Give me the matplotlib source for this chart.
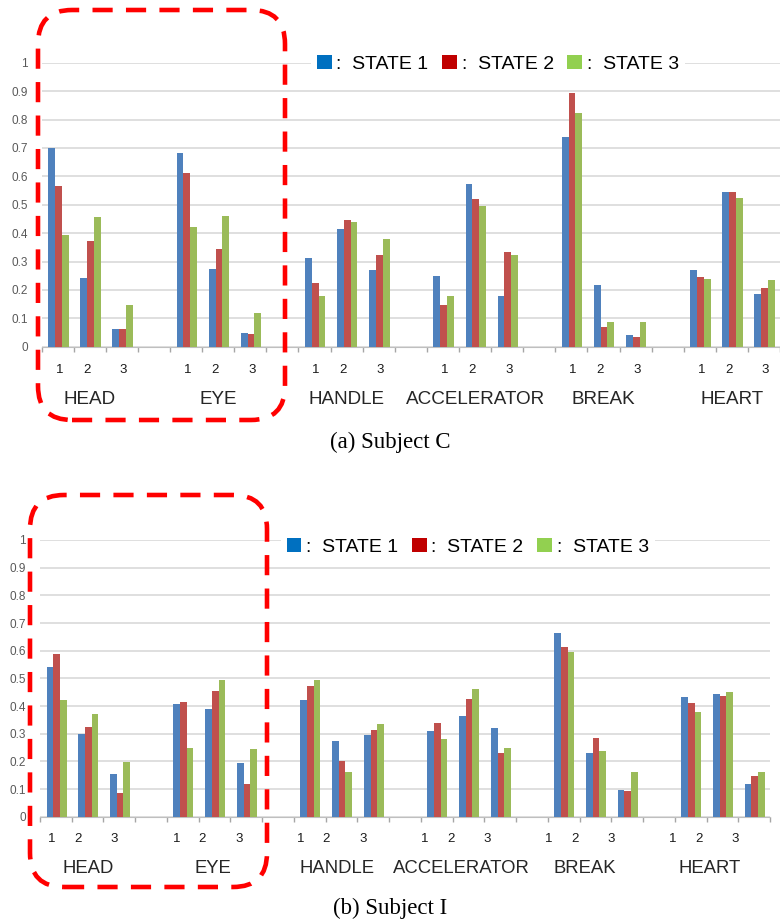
import matplotlib.pyplot as plt
from matplotlib.patches import FancyBboxPatch, Patch

plt.rcParams['font.family'] = ['Liberation Sans', 'DejaVu Sans']

parts = ['HEAD', 'EYE', 'HANDLE', 'ACCELERATOR', 'BREAK', 'HEART']
levels = ['1', '2', '3']
states = ['STATE 1', 'STATE 2', 'STATE 3']
yticks = [0, 0.1, 0.2, 0.3, 0.4, 0.5, 0.6, 0.7, 0.8, 0.9, 1]
ytick_labels = ['0', '0.1', '0.2', '0.3', '0.4', '0.5', '0.6', '0.7', '0.8', '0.9', '1']

# (a) Subject C, values ordered HEAD 1..3, EYE 1..3, ... HEART 1..3
subject_c_state1 = [0.698, 0.241, 0.062, 0.681, 0.272, 0.047, 0.312, 0.414, 0.271,
                    0.250, 0.573, 0.178, 0.739, 0.218, 0.040, 0.270, 0.545, 0.184]
subject_c_state2 = [0.566, 0.371, 0.062, 0.610, 0.345, 0.045, 0.225, 0.447, 0.324,
                    0.146, 0.519, 0.335, 0.894, 0.070, 0.035, 0.244, 0.545, 0.208]
subject_c_state3 = [0.393, 0.455, 0.147, 0.423, 0.462, 0.117, 0.178, 0.438, 0.380,
                    0.177, 0.496, 0.323, 0.823, 0.086, 0.086, 0.239, 0.522, 0.234]

# (b) Subject I
subject_i_state1 = [0.540, 0.300, 0.154, 0.408, 0.390, 0.193, 0.423, 0.275, 0.295,
                    0.310, 0.365, 0.320, 0.665, 0.229, 0.098, 0.433, 0.442, 0.117]
subject_i_state2 = [0.587, 0.323, 0.084, 0.416, 0.453, 0.120, 0.473, 0.202, 0.313,
                    0.337, 0.425, 0.229, 0.613, 0.286, 0.094, 0.411, 0.435, 0.148]
subject_i_state3 = [0.423, 0.370, 0.196, 0.249, 0.495, 0.246, 0.493, 0.163, 0.335,
                    0.282, 0.460, 0.249, 0.595, 0.237, 0.163, 0.380, 0.451, 0.163]

bar_colors = ['#4F81BD', '#C0504D', '#9BBB59']
key_colors = ['#0070C0', '#C00000', '#92D050']
bar_w = 0.21


def draw_panel(ax, series, xmax, label_scale, num_offsets, name_offset,
               name_size, legend_at):
    # every part takes 4 slots: three levels and an empty gap
    for i, values in enumerate(series):
        xs = []
        for n in range(len(values)):
            g, k = divmod(n, 3)
            xs.append(4 * g + k + 0.52 + (i - 1) * bar_w)
        ax.bar(xs, values, width=bar_w, color=bar_colors[i], zorder=3)

    ax.set_xlim(0, xmax)
    ax.set_ylim(0, 1)
    ax.set_yticks(yticks)
    ax.set_yticklabels(ytick_labels, fontsize=8.5, color='#595959')
    ax.tick_params(axis='y', length=0, pad=10)
    ax.set_xticks(range(0, 24))
    ax.set_xticklabels([])
    ax.tick_params(axis='x', length=3.5, color='#A6A6A6', width=1)
    ax.grid(axis='y', color='#D9D9D9', linewidth=1.2, zorder=0)
    ax.set_axisbelow(True)
    for side in ['top', 'right', 'left']:
        ax.spines[side].set_visible(False)
    ax.spines['bottom'].set_color('#BFBFBF')

    tr = ax.get_xaxis_transform()
    for g, name in enumerate(parts):
        start = 4 * g * label_scale
        for k, lv in enumerate(levels):
            ax.text(start + num_offsets[k], -0.082, lv, transform=tr,
                    ha='center', va='center', fontsize=9.5, color='#1A1A1A')
        ax.text(start + name_offset, -0.187, name, transform=tr,
                ha='center', va='center', fontsize=name_size, color='#262626')

    handles = [Patch(facecolor=c, edgecolor='none') for c in key_colors]
    leg = ax.legend(handles, [':  ' + s for s in states], ncol=3, loc='center',
                    bbox_to_anchor=legend_at, fontsize=14, frameon=True,
                    handlelength=0.75, handleheight=0.75, handletextpad=0.25,
                    columnspacing=0.7, borderpad=0.3, fancybox=False)
    leg.get_frame().set_facecolor('white')
    leg.get_frame().set_edgecolor('none')
    leg.get_frame().set_alpha(1)


fig = plt.figure(figsize=(7.8, 9.24), dpi=100)

ax1 = fig.add_axes([41.7 / 780, 0.6248, 1 - 41.7 / 780, 0.3073])
draw_panel(ax1, [subject_c_state1, subject_c_state2, subject_c_state3],
           xmax=(780 - 41.7) / 32.5, label_scale=1.0,
           num_offsets=[0.55, 1.4, 2.55], name_offset=1.5, name_size=13.6,
           legend_at=(0.618, 0.995))

ax2 = fig.add_axes([40 / 780, 0.1161, 730 / 780, 0.2995])
draw_panel(ax2, [subject_i_state1, subject_i_state2, subject_i_state3],
           xmax=23, label_scale=0.978,
           num_offsets=[0.38, 1.2, 2.35], name_offset=1.53, name_size=13.3,
           legend_at=(0.586, 0.975))

fig.text(0.5, 1 - 442 / 924, '(a) Subject C', ha='center', va='center',
         fontsize=16.5, family='Liberation Serif')
fig.text(0.5, 1 - 908 / 924, '(b) Subject I', ha='center', va='center',
         fontsize=16.5, family='Liberation Serif')

# red dashed rounded frames around HEAD and EYE (figure inches)
for x0, y0, x1, y1 in [(38, 10, 285, 420), (30, 495, 267, 887)]:
    box = FancyBboxPatch((x0 / 100, (924 - y1) / 100), (x1 - x0) / 100, (y1 - y0) / 100,
                         boxstyle='round,pad=0,rounding_size=0.34',
                         transform=fig.dpi_scale_trans, facecolor='none',
                         edgecolor='#FF0000', linewidth=3.3,
                         linestyle=(0, (4.4, 2.9)), zorder=10)
    fig.add_artist(box)

fig.savefig('out.png', dpi=100)
